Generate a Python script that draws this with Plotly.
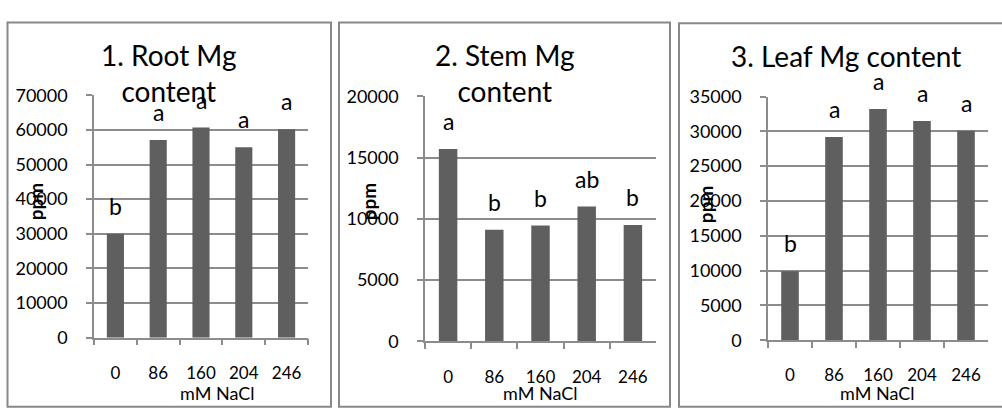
import plotly.graph_objects as go

# NaCl treatment levels (mM) and Mg content (ppm) per organ
nacl = ["0", "86", "160", "204", "246"]
root_mg = [30000, 57100, 60700, 55000, 60200]
stem_mg = [15700, 9100, 9450, 11000, 9500]
leaf_mg = [9900, 29200, 33200, 31500, 30100]

# Significance groups
root_groups = ["b", "a", "a", "a", "a"]
stem_groups = ["a", "b", "b", "ab", "b"]
leaf_groups = ["b", "a", "a", "a", "a"]

titles = ["1. Root Mg<br>content", "2. Stem Mg<br>content", "3. Leaf Mg content"]
y_max = [70000, 20000, 35000]
y_step = [10000, 5000, 5000]

W, H = 1002, 412
FONT = "Lato, Open Sans, sans-serif"
GRID = "#8c8c8c"
BAR = "#5f5f5f"


def px(x):
    return x / W


def py(y):
    return 1 - y / H


# plot-area boxes in pixels: (left, right, top, bottom)
boxes = [(94, 308, 88, 344), (425, 656, 89, 348), (768, 988, 89.3, 346.7)]
# outer chart frames in pixels: (left, right, top)
frames = [(7.5, 331, 11), (339, 670, 11), (679, 1004, 12)]
title_pos = [(168, 64), (505, 64), (846, 47)]
ylab_pos = [(35, 200), (368, 200), (705, 203)]
xlab_pos = [(217, 402), (540, 402), (877, 402)]

series = [root_mg, stem_mg, leaf_mg]
groups = [root_groups, stem_groups, leaf_groups]

fig = go.Figure()
layout = dict(
    width=W, height=H, margin=dict(l=0, r=0, t=0, b=0),
    paper_bgcolor="white", plot_bgcolor="white",
    showlegend=False, font=dict(family=FONT, color="black"),
    annotations=[], shapes=[],
)

for i in range(3):
    n = "" if i == 0 else str(i + 1)
    l, r, t, b = boxes[i]
    fig.add_trace(go.Bar(
        x=nacl, y=series[i], width=0.4, marker=dict(color=BAR, line=dict(width=0)),
        xaxis="x" + n, yaxis="y" + n, hoverinfo="x+y",
    ))
    layout["xaxis" + n] = dict(
        domain=[px(l), px(r)], anchor="y" + n, type="category",
        range=[-0.5, 4.5], showgrid=False, zeroline=False,
        showline=True, linecolor=GRID, linewidth=1.5,
        ticks="outside", tickson="boundaries", ticklen=6, tickcolor=GRID, tickwidth=1.5,
        tickfont=dict(size=17), ticklabelstandoff=19,
    )
    layout["yaxis" + n] = dict(
        domain=[py(b), py(t)], anchor="x" + n,
        range=[0, y_max[i]], dtick=y_step[i], tick0=0, tickformat="d",
        showgrid=True, gridcolor=GRID, gridwidth=1.5, zeroline=False,
        showline=True, linecolor=GRID, linewidth=1.5,
        ticks="outside", ticklen=6, tickcolor=GRID, tickwidth=1.5,
        tickfont=dict(size=18), ticklabelstandoff=15,
    )
    # significance letters above each bar
    for j, (val, g) in enumerate(zip(series[i], groups[i])):
        layout["annotations"].append(dict(
            x=j, y=val, xref="x" + n, yref="y" + n, text=g, showarrow=False,
            yanchor="bottom", yshift=12, font=dict(size=23),
        ))
    # chart title
    tx, ty = title_pos[i]
    layout["annotations"].append(dict(
        x=px(tx), y=py(ty), xref="paper", yref="paper", text=titles[i],
        showarrow=False, xanchor="center", yanchor="middle", font=dict(size=28),
    ))
    # axis titles
    yx, yy = ylab_pos[i]
    layout["annotations"].append(dict(
        x=px(yx), y=py(yy), xref="paper", yref="paper", text="<b>ppm</b>",
        textangle=-90, showarrow=False, xanchor="center", yanchor="middle",
        font=dict(size=19),
    ))
    xx, xy = xlab_pos[i]
    layout["annotations"].append(dict(
        x=px(xx), y=py(xy), xref="paper", yref="paper", text="mM NaCl",
        showarrow=False, xanchor="center", yanchor="middle", font=dict(size=18),
    ))
    # chart frame, open at the bottom edge
    fl, fr, ft = frames[i]
    layout["shapes"].append(dict(
        type="rect", xref="paper", yref="paper",
        x0=px(fl), x1=px(fr), y0=py(H + 5), y1=py(ft),
        line=dict(color="#888888", width=2), fillcolor="rgba(0,0,0,0)", layer="below",
    ))

fig.update_layout(**layout)
fig.write_html("out.html")
